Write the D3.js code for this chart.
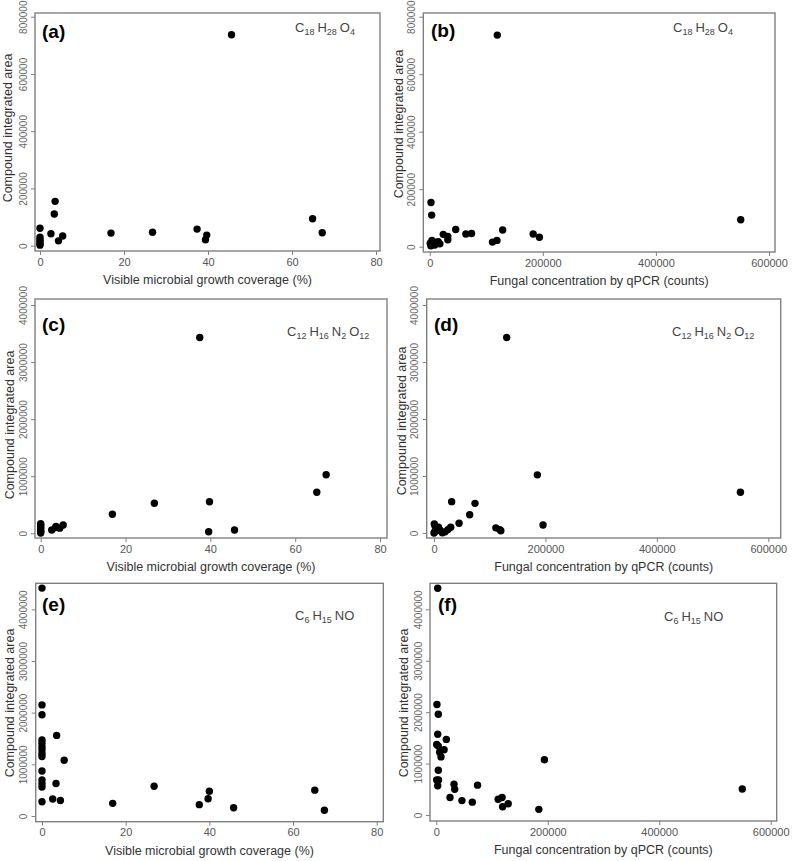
<!DOCTYPE html>
<html>
<head>
<meta charset="utf-8">
<script src="https://cdn.jsdelivr.net/npm/d3@7"></script>
<style>
  html, body { margin: 0; padding: 0; background: #fff; }
  svg { display: block; font-family: "Liberation Sans", Arial, sans-serif; }
</style>
</head>
<body>
<svg id="chart" width="793" height="861"></svg>
<script>
// ---------------- DATA ----------------
const coverageTicks = [0, 20, 40, 60, 80];
const fungalTicks = [0, 200000, 400000, 600000];
const areaTicksSmall = [0, 200000, 400000, 600000, 800000];
const areaTicksLarge = [0, 1000000, 2000000, 3000000, 4000000];

const xTitleCoverage = "Visible microbial growth coverage (%)";
const xTitleFungal = "Fungal concentration by qPCR (counts)";
const yTitle = "Compound integrated area";

const panelLetters = ["(a)", "(b)", "(c)", "(d)", "(e)", "(f)"];
const formula1 = [["C", "18"], ["H", "28"], ["O", "4"]];
const formula2 = [["C", "12"], ["H", "16"], ["N", "2"], ["O", "12"]];
const formula3 = [["C", "6"], ["H", "15"], ["NO", ""]];

// (a) coverage % vs area, C18H28O4
const pointsA = [[0,61000],[0,30000],[0,22000],[0,15000],[0,8000],[0,2000],
  [2.6,42000],[3.4,111000],[3.6,155000],[4.4,17000],[5.4,34000],[16.9,44000],
  [26.8,47000],[37.4,58000],[39.4,21000],[39.7,37000],[45.6,737000],[64.9,94000],[67.2,45000]];
// (b) fungal counts vs area, C18H28O4
const pointsB = [[1000,12000],[2000,3000],[4000,22000],[6000,17000],[9000,6000],[15000,17000],
  [18000,10000],[2300,154000],[3500,110000],[24000,43000],[32000,36000],[32000,24000],
  [46000,60000],[64000,44000],[74000,46000],[111000,16000],[119000,22000],[129000,58000],
  [119500,736000],[183000,44000],[194000,33000],[550000,94000]];
// (c) coverage % vs area, C12H16N2O12
const pointsC = [[0,170000],[0,140000],[0,110000],[0,80000],[0,50000],[0,25000],[0,5000],
  [2.6,58000],[3.5,100000],[3.6,120000],[4.5,90000],[5.3,145000],[16.9,333000],[26.8,526000],
  [37.5,3430000],[39.6,28000],[39.8,554000],[45.7,58000],[65.1,718000],[67.3,1027000]];
// (d) fungal counts vs area, C12H16N2O12
const pointsD = [[0,0],[500,160000],[2000,120000],[1000,20000],[6000,80000],[4000,40000],
  [8000,100000],[11000,50000],[15000,5000],[20000,20000],[25000,60000],[30000,100000],
  [45000,170000],[31700,550000],[64000,320000],[73600,520000],[111000,90000],[118000,60000],
  [120000,40000],[130500,3430000],[185500,1020000],[195700,140000],[550000,714000]];
// (e) coverage % vs area, C6H15NO
const pointsE = [[0,4410000],[0,2150000],[0,1960000],[0,1470000],[0,1410000],[0,1340000],
  [0,1280000],[0,1210000],[0,1150000],[0,870000],[0,700000],[0,630000],[0,560000],[0,277000],
  [2.55,330000],[3.35,630000],[3.5,1560000],[4.4,300000],[5.3,1080000],[16.9,245000],
  [26.8,575000],[37.6,220000],[39.7,335000],[40,480000],[45.8,160000],[65.2,500000],[67.5,110000]];
// (f) fungal counts vs area, C6H15NO
const pointsF = [[2500,4410000],[1200,2150000],[3600,1960000],[2500,1570000],[18000,1470000],
  [700,1370000],[3600,1340000],[14000,1270000],[6000,1220000],[8400,1130000],[3600,870000],
  [700,680000],[4000,680000],[2500,570000],[31800,600000],[33000,500000],[74000,580000],
  [24600,340000],[46000,280000],[64600,250000],[111000,305000],[118000,340000],[119000,160000],
  [129000,220000],[184000,110000],[194000,1075000],[549000,505000]];

// ---------------- LAYOUT ----------------
const panels = [
  { pts: pointsA, xt: coverageTicks, yt: areaTicksSmall, xTitle: xTitleCoverage, formula: formula1,
    frame: {l: 35, r: 380, t: 13, b: 251}, xr: [40, 376], yr: [245.7, 16.7],
    letter: [42, 38], fpos: [295, 31.5], yTitleX: 8, yTitleY: 128 },
  { pts: pointsB, xt: fungalTicks, yt: areaTicksSmall, xTitle: xTitleFungal, formula: formula1,
    frame: {l: 423.3, r: 775, t: 13, b: 252}, xr: [429.7, 769], yr: [246.7, 16.7],
    letter: [431, 37], fpos: [673, 31.5], yTitleX: 399, yTitleY: 124 },
  { pts: pointsC, xt: coverageTicks, yt: areaTicksLarge, xTitle: xTitleCoverage, formula: formula2,
    frame: {l: 35, r: 387, t: 299, b: 538}, xr: [40.7, 380], yr: [533.3, 305],
    letter: [42, 331], fpos: [287, 336], yTitleX: 10, yTitleY: 425 },
  { pts: pointsD, xt: fungalTicks, yt: areaTicksLarge, xTitle: xTitleFungal, formula: formula2,
    frame: {l: 426.7, r: 780.7, t: 299, b: 538}, xr: [434, 768.3], yr: [533, 305],
    letter: [434, 331], fpos: [672, 335.5], yTitleX: 402, yTitleY: 421 },
  { pts: pointsE, xt: coverageTicks, yt: areaTicksLarge, xTitle: xTitleCoverage, formula: formula3,
    frame: {l: 35.7, r: 383.3, t: 583.3, b: 821.7}, xr: [42, 376.7], yr: [816, 609.3],
    letter: [42, 611], fpos: [295, 619.5], yTitleX: 10, yTitleY: 703 },
  { pts: pointsF, xt: fungalTicks, yt: areaTicksLarge, xTitle: xTitleFungal, formula: formula3,
    frame: {l: 430, r: 776.7, t: 583.3, b: 821}, xr: [436.3, 770.7], yr: [815, 609.3],
    letter: [438, 611], fpos: [664, 621], yTitleX: 404, yTitleY: 703 }
];

const svg = d3.select("#chart");
const fmt = d3.format("d");
const gray = "#808080";

panels.forEach((p, i) => {
  const xs = d3.scaleLinear().domain([p.xt[0], p.xt[p.xt.length - 1]]).range(p.xr);
  const ys = d3.scaleLinear().domain([p.yt[0], p.yt[p.yt.length - 1]]).range(p.yr);
  const g = svg.append("g");
  const f = p.frame;

  // frame
  g.append("rect").attr("x", f.l).attr("y", f.t).attr("width", f.r - f.l).attr("height", f.b - f.t)
    .attr("fill", "none").attr("stroke", gray).attr("stroke-width", 1.4);

  // x axis
  const xa = g.append("g").attr("transform", `translate(0,${f.b})`)
    .call(d3.axisBottom(xs).tickValues(p.xt).tickFormat(fmt).tickSize(4).tickPadding(3));
  xa.select(".domain").remove();
  xa.selectAll("line").attr("stroke", gray);
  xa.selectAll("text").attr("fill", "#555").style("font-size", "11px")
    .style("font-family", "'Liberation Sans', Arial, sans-serif");

  // y axis
  const ya = g.append("g").attr("transform", `translate(${f.l},0)`)
    .call(d3.axisLeft(ys).tickValues(p.yt).tickFormat(fmt).tickSize(4).tickPadding(3));
  ya.select(".domain").remove();
  ya.selectAll("line").attr("stroke", gray);
  ya.selectAll("text").attr("fill", "#666").style("font-size", "10px")
    .style("font-family", "'Liberation Sans', Arial, sans-serif")
    .attr("text-anchor", "middle").attr("dy", null).attr("x", null)
    .attr("transform", "translate(-12,0) rotate(-90)").attr("dominant-baseline", "central");

  // x title
  g.append("text").attr("x", (f.l + f.r) / 2).attr("y", f.b + 33)
    .attr("text-anchor", "middle").attr("fill", "#333").style("font-size", "12.5px")
    .text(p.xTitle);

  // y title
  g.append("text").attr("transform", `translate(${p.yTitleX + 4},${p.yTitleY}) rotate(-90)`)
    .attr("text-anchor", "middle").attr("fill", "#333").style("font-size", "12.5px")
    .text(yTitle);

  // points
  g.append("g").selectAll("circle").data(p.pts).join("circle")
    .attr("cx", d => xs(d[0])).attr("cy", d => ys(d[1])).attr("r", 3.7).attr("fill", "#000");

  // panel letter
  g.append("text").attr("x", p.letter[0]).attr("y", p.letter[1])
    .attr("font-weight", "bold").style("font-size", "19px").attr("fill", "#000")
    .text(panelLetters[i]);

  // formula (subscripts as separately positioned tspans)
  const ft = g.append("text").attr("y", p.fpos[1]).attr("fill", "#444").style("font-size", "13px");
  let first = true;
  p.formula.forEach((el) => {
    const t = ft.append("tspan").attr("y", p.fpos[1]).text(el[0]);
    if (first) t.attr("x", p.fpos[0]); else t.attr("dx", 3);
    first = false;
    if (el[1]) {
      ft.append("tspan").attr("y", p.fpos[1] + 3).style("font-size", "9px").text(el[1]);
    }
  });
});
</script>
</body>
</html>
